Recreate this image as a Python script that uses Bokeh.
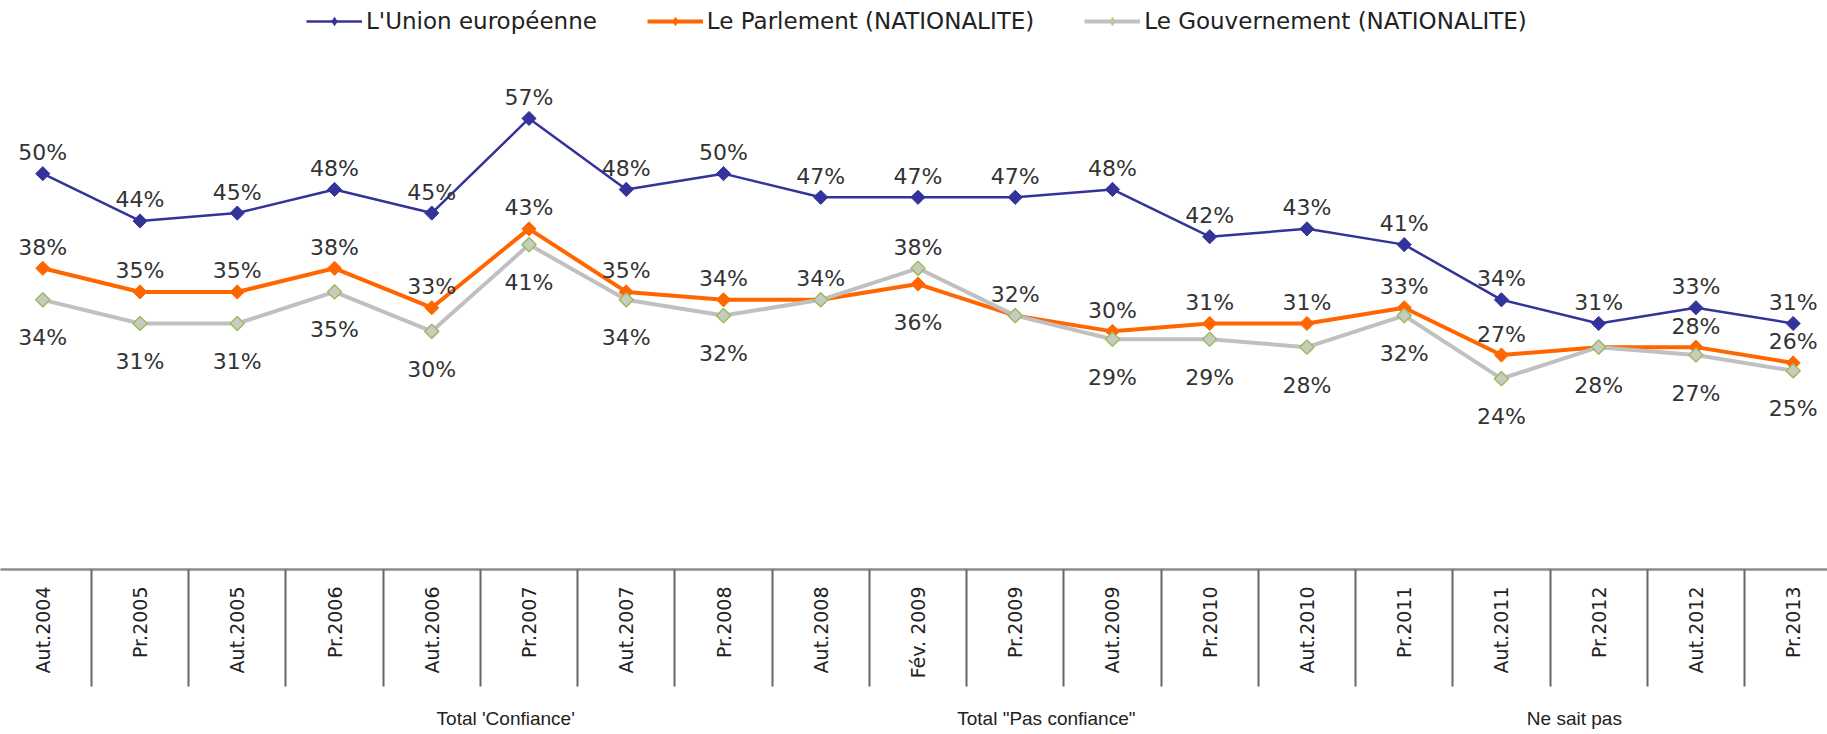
from math import pi

from bokeh.plotting import figure
from bokeh.models import (Range1d, FixedTicker, LinearAxis, Legend, LegendItem,
                          ColumnDataSource)
from bokeh.core.properties import value
from bokeh.embed import file_html
from bokeh.resources import INLINE

# ---------------- data ----------------
periods = ["Aut.2004", "Pr.2005", "Aut.2005", "Pr.2006", "Aut.2006", "Pr.2007",
           "Aut.2007", "Pr.2008", "Aut.2008", "Fév. 2009", "Pr.2009", "Aut.2009",
           "Pr.2010", "Aut.2010", "Pr.2011", "Aut.2011", "Pr.2012", "Aut.2012",
           "Pr.2013"]
union = [50, 44, 45, 48, 45, 57, 48, 50, 47, 47, 47, 48, 42, 43, 41, 34, 31, 33, 31]
parlement = [38, 35, 35, 38, 33, 43, 35, 34, 34, 36, 32, 30, 31, 31, 33, 27, 28, 28, 26]
gouvernement = [34, 31, 31, 35, 30, 41, 34, 32, 34, 38, 32, 29, 29, 28, 32, 24, 28, 27, 25]

series_names = ["L'Union européenne", "Le Parlement (NATIONALITE)",
                "Le Gouvernement (NATIONALITE)"]
groups = ["Total 'Confiance'", 'Total "Pas confiance"', "Ne sait pas"]
group_centres = [4.76, 10.32, 15.75]          # in category-index units

# label placement: "a" above, "b" below, "" not shown
union_lab = ["a"] * len(periods)
parl_lab = ["a"] * len(periods)
parl_lab[9] = "b"
parl_lab[16] = ""
gouv_lab = ["b"] * len(periods)
gouv_lab[9] = "a"
gouv_lab[8] = ""
gouv_lab[10] = ""

# ---------------- styles ----------------
BLUE = "#333399"
ORANGE = "#FF6600"
GREY = "#C0C0C0"
GREY_MK_LINE = "#9DBB61"
GREY_MK_FILL = "#C8CCC0"
TXT = "#333333"

xs = list(range(len(periods)))

p = figure(width=1827, height=734,
           x_range=Range1d(-0.435, 18.353), y_range=Range1d(-0.2, 71.96),
           output_backend="svg", toolbar_location=None, y_axis_location=None,
           min_border_left=0, min_border_right=0, min_border_top=0,
           min_border_bottom=165, outline_line_color=None,
           background_fill_color="white", border_fill_color="white")
p.xgrid.visible = False
p.ygrid.visible = False

# ---------------- series ----------------
l1 = p.line(xs, union, line_color=BLUE, line_width=2.5)
m1 = p.scatter(xs, union, marker="square", angle=pi / 4, size=10,
               fill_color=BLUE, line_color=BLUE)
l2 = p.line(xs, parlement, line_color=ORANGE, line_width=4)
m2 = p.scatter(xs, parlement, marker="square", angle=pi / 4, size=10,
               fill_color=ORANGE, line_color=ORANGE)
l3 = p.line(xs, gouvernement, line_color=GREY, line_width=4)
m3 = p.scatter(xs, gouvernement, marker="square", angle=pi / 4, size=10,
               fill_color=GREY_MK_FILL, line_color=GREY_MK_LINE, line_width=1.5)

# legend diamonds (zero size in the plot itself, the legend sizes its own glyph)
d1 = p.scatter(xs, union, marker="diamond", size=0, fill_color=BLUE, line_color=None)
d2 = p.scatter(xs, parlement, marker="diamond", size=0, fill_color=ORANGE, line_color=None)
d3 = p.scatter(xs, gouvernement, marker="diamond", size=0, fill_color="#B5C99A",
               line_color=None)

# ---------------- data labels ----------------
above = dict(x=[], y=[], t=[])
below = dict(x=[], y=[], t=[])
for vals, pos in ((union, union_lab), (parlement, parl_lab), (gouvernement, gouv_lab)):
    for i, (v, ps) in enumerate(zip(vals, pos)):
        if ps == "a":
            tgt = above
        elif ps == "b":
            tgt = below
        else:
            continue
        tgt["x"].append(i)
        tgt["y"].append(v)
        tgt["t"].append(f"{v}%")

lab_kw = dict(text_font=value("DejaVu Sans"), text_font_size="22px",
              text_color=TXT, text_align="center", text_baseline="alphabetic")
p.text(x="x", y="y", text="t", source=ColumnDataSource(above), y_offset=-21, **lab_kw)
p.text(x="x", y="y", text="t", source=ColumnDataSource(below), y_offset=38, **lab_kw)

# ---------------- category axis ----------------
SEP = 117
xa = p.xaxis[0]
xa.ticker = FixedTicker(ticks=xs, minor_ticks=[i - 0.5 for i in range(len(periods) + 1)])
xa.major_label_overrides = {i: lab for i, lab in enumerate(periods)}
xa.major_label_orientation = pi / 2
xa.major_tick_out = 0
xa.major_tick_in = 0
xa.minor_tick_out = SEP
xa.minor_tick_in = 0
xa.minor_tick_line_color = "#666666"
xa.minor_tick_line_width = 2
xa.axis_line_color = "#8c8c8c"
xa.axis_line_width = 2.5
xa.major_label_standoff = 17 - SEP
xa.major_label_text_font = "DejaVu Sans"
xa.major_label_text_font_size = "19px"
xa.major_label_text_color = "#222222"

# ---------------- group labels axis ----------------
ga = LinearAxis(ticker=FixedTicker(ticks=group_centres, minor_ticks=[]),
                major_label_overrides=dict(zip(group_centres, groups)),
                axis_line_color=None, major_tick_line_color=None,
                minor_tick_line_color=None, major_tick_out=0, major_tick_in=0,
                major_label_standoff=26, major_label_text_font="Liberation Sans",
                major_label_text_font_size="19px", major_label_text_color="#222222")
p.add_layout(ga, "below")

# ---------------- legend ----------------
legend = Legend(items=[LegendItem(label=series_names[0], renderers=[l1, d1]),
                       LegendItem(label=series_names[1], renderers=[l2, d2]),
                       LegendItem(label=series_names[2], renderers=[l3, d3])],
                orientation="horizontal", location=(306, 535), padding=0, margin=0,
                spacing=50, glyph_width=56, glyph_height=24, label_height=24,
                label_standoff=4, border_line_color=None, background_fill_alpha=0,
                label_text_font="DejaVu Sans", label_text_font_size="23px",
                label_text_color="#222222")
p.add_layout(legend)

open("out.html", "w", encoding="utf-8").write(file_html(p, INLINE, title="chart"))
